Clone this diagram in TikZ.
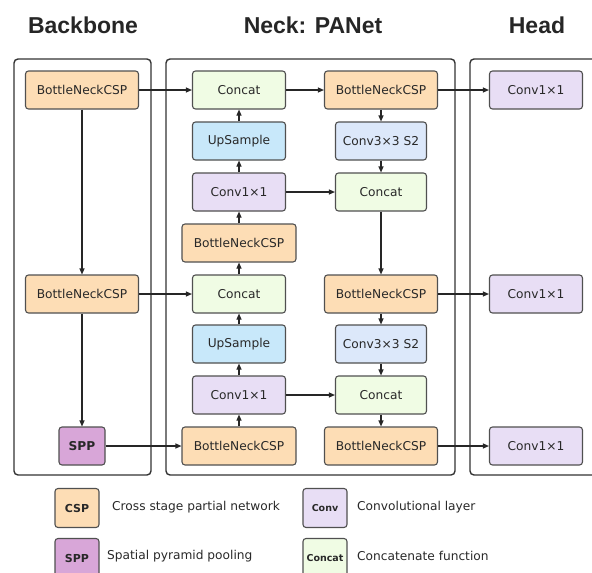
\documentclass[tikz,border=0pt]{standalone}
\usepackage{fontspec}
\setmainfont{DejaVu Sans}
\newfontfamily\titlefont{Liberation Sans}
\usetikzlibrary{arrows.meta}
\definecolor{linec}{HTML}{505050}
\definecolor{textc}{HTML}{282828}
\definecolor{cspc}{HTML}{FDDDB5}
\definecolor{catc}{HTML}{F0FCE4}
\definecolor{upc}{HTML}{C8E8FA}
\definecolor{convc}{HTML}{E8DEF5}
\definecolor{cvtc}{HTML}{DCE8FA}
\definecolor{sppc}{HTML}{D8A6D8}
\begin{document}
\begin{tikzpicture}[x=1pt,y=-1pt,
  blk/.style={draw=linec, line width=1.1pt, rounded corners=3pt, minimum height=38pt, inner sep=0pt, font=\fontsize{12.2}{14}\selectfont, text=textc},
  csp/.style={blk, fill=cspc, minimum width=113pt},
  cat/.style={blk, fill=catc, minimum width=93pt},
  ups/.style={blk, fill=upc, minimum width=93pt},
  cv/.style={blk, fill=convc, minimum width=93pt},
  cvt/.style={blk, fill=cvtc, minimum width=91pt},
  sppbox/.style={blk, fill=sppc, minimum width=46pt},
  legbox/.style={blk, minimum width=44pt, minimum height=39pt, font=\fontsize{11}{13}\selectfont},
  legtxt/.style={anchor=west, inner sep=0pt, text=textc, font=\fontsize{12.2}{14}\selectfont},
  panel/.style={draw=black!80, line width=1.4pt, rounded corners=4pt},
  ttl/.style={font=\titlefont\bfseries\fontsize{23}{27}\selectfont, text=black!85},
  arr/.style={draw=black!85, line width=1.1pt, -{Triangle[length=6pt,width=5pt]}}
]
\useasboundingbox (0,0) rectangle (592,573);
% titles
\node[ttl] (tb) at (83,25) {Backbone};
\node[ttl] (tn) at (313,25) {Neck: PANet};
\node[ttl] (th) at (537,25) {Head};
% panels
\draw[panel] (14,59) rectangle (151,475);
\draw[panel] (166,59) rectangle (455,475);
\draw[panel] (470,59) rectangle (610,475);
% backbone
\node[csp] (b1) at (82,90) {BottleNeckCSP};
\node[csp] (b2) at (82,294) {BottleNeckCSP};
\node[sppbox] (spp) at (82,446) {\bfseries SPP};
% neck left
\node[cat] (c1) at (239,90) {Concat};
\node[ups] (u1) at (239,141) {UpSample};
\node[cv] (v1) at (239,192) {Conv1×1};
\node[csp, minimum width=114pt] (n1) at (239,243) {BottleNeckCSP};
\node[cat] (c2) at (239,294) {Concat};
\node[ups] (u2) at (239,344) {UpSample};
\node[cv] (v2) at (239,395) {Conv1×1};
\node[csp, minimum width=114pt] (n2) at (239,446) {BottleNeckCSP};
% neck right
\node[csp] (r1) at (381,90) {BottleNeckCSP};
\node[cvt] (s1) at (381,141) {Conv3×3 S2};
\node[cat, minimum width=91pt] (d1) at (381,192) {Concat};
\node[csp] (r2) at (381,294) {BottleNeckCSP};
\node[cvt] (s2) at (381,344) {Conv3×3 S2};
\node[cat, minimum width=91pt] (d2) at (381,395) {Concat};
\node[csp] (r3) at (381,446) {BottleNeckCSP};
% head
\node[cv] (h1) at (536,90) {Conv1×1};
\node[cv] (h2) at (536,294) {Conv1×1};
\node[cv] (h3) at (536,446) {Conv1×1};
% arrows backbone
\draw[arr] (b1) -- (b2);
\draw[arr] (b2) -- (spp);
\draw[arr] (b1) -- (c1);
\draw[arr] (b2) -- (c2);
\draw[arr] (spp) -- (n2);
% neck left upward
\draw[arr] (n2) -- (v2);
\draw[arr] (v2) -- (u2);
\draw[arr] (u2) -- (c2);
\draw[arr] (c2) -- (n1);
\draw[arr] (n1) -- (v1);
\draw[arr] (v1) -- (u1);
\draw[arr] (u1) -- (c1);
% across
\draw[arr] (c1) -- (r1);
\draw[arr] (v1) -- (d1);
\draw[arr] (v2) -- (d2);
% neck right downward
\draw[arr] (r1) -- (s1);
\draw[arr] (s1) -- (d1);
\draw[arr] (d1) -- (r2);
\draw[arr] (r2) -- (s2);
\draw[arr] (s2) -- (d2);
\draw[arr] (d2) -- (r3);
% head
\draw[arr] (r1) -- (h1);
\draw[arr] (r2) -- (h2);
\draw[arr] (r3) -- (h3);
% legend
\node[legbox, fill=cspc] (lcsp) at (77,508) {\bfseries CSP};
\node[legtxt] (tcsp) at (112,507) {Cross stage partial network};
\node[legbox, fill=sppc] (lspp) at (77,558) {\bfseries SPP};
\node[legtxt] (tspp) at (107,556) {Spatial pyramid pooling};
\node[legbox, fill=convc, font=\fontsize{9.5}{11}\selectfont] (lconv) at (325,508) {\bfseries Conv};
\node[legtxt] (tconv) at (357,507) {Convolutional layer};
\node[legbox, fill=catc, font=\fontsize{9.5}{11}\selectfont] (lcat) at (325,558) {\bfseries Concat};
\node[legtxt] (tcat) at (357,556) {Concatenate function};
\end{tikzpicture}
\end{document}
